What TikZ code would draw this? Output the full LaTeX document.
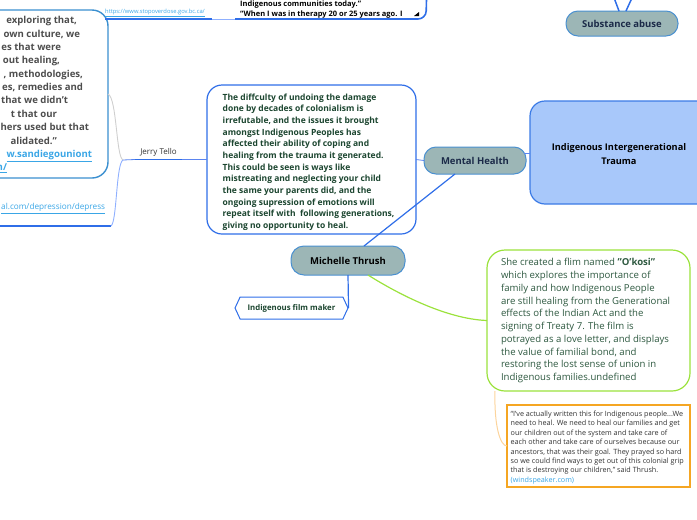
\documentclass[tikz,border=0pt]{standalone}
\usepackage{fontspec}
\setmainfont{Open Sans}
\usetikzlibrary{shapes.symbols}
\definecolor{linkblue}{HTML}{3AA6E6}
\definecolor{conblue}{HTML}{2F6EE8}
\definecolor{thinblue}{HTML}{5B85F0}
\definecolor{tlblue}{HTML}{3A8FD0}
\definecolor{pillfill}{HTML}{9CB6B6}
\definecolor{pillborder}{HTML}{4A90D0}
\definecolor{navy}{HTML}{1B2A48}
\definecolor{dkgreen}{HTML}{1C4630}
\definecolor{bigfill}{HTML}{A8C8FA}
\definecolor{bigborder}{HTML}{3B7BE6}
\definecolor{gborder}{HTML}{9BE23C}
\definecolor{gtext}{HTML}{2E5940}
\definecolor{oborder}{HTML}{F5A623}
\definecolor{ocon}{HTML}{FCD49C}
\definecolor{graycon}{HTML}{CFCFCF}
\definecolor{lightcon}{HTML}{8FB0FF}
\definecolor{tltext}{HTML}{4D4D4D}
\definecolor{otext}{HTML}{333333}
\newcommand{\padr}[1]{\rule{#1}{0pt}}
\begin{document}
\begin{tikzpicture}[x=1pt,y=-1pt,
  shapebox/.style={inner sep=0pt, outer sep=0pt},
  pill/.style={shapebox, rounded corners=12pt, fill=pillfill, draw=pillborder, line width=1pt, text=navy, font=\bfseries\fontsize{9.5}{11}\selectfont},
  para/.style={inner sep=0pt, outer sep=0pt, anchor=north west, align=left},
  conn/.style={draw=conblue, line width=1.2pt},
  thinconn/.style={draw=thinblue, line width=0.8pt},
  underl/.style={draw=conblue, line width=1.6pt},
]
\useasboundingbox (0,0) rectangle (697,520);
\clip (0,0) rectangle (697,520);

% ---------- top-left quote box ----------
\node[shapebox, draw=tlblue, line width=1.4pt, rounded corners=16pt, minimum width=168pt, minimum height=168pt] (tl) at (24,94) {};
\node[inner sep=0pt, outer sep=0pt, anchor=north east, align=right, text=tltext, font=\bfseries\fontsize{9.6}{13.36}\selectfont] (tltxt) at (92,16.5) {%
exploring that,\padr{15pt}\\
own culture, we\padr{12pt}\\
es that were\padr{31pt}\\
out healing,\padr{32pt}\\
, methodologies,\padr{9pt}\\
es, remedies and\padr{9pt}\\
that we didn’t\padr{24pt}\\
t that our\padr{35pt}\\
hers used but that\padr{3pt}\\
alidated.”\padr{35pt}\\
{\color{linkblue}\underline{w.sandiegouniont}}\\
{\color{linkblue}\underline{n/}}\padr{85pt}};

% ---------- link + top quote ----------
\node[shapebox, minimum width=107pt, minimum height=14pt] (lnk) at (158.5,12) {};
\node[inner sep=0pt, anchor=base west, text=linkblue, font=\fontsize{5.8}{7}\selectfont] (lnktxt) at (105,13.5) {\underline{https://www.stopoverdose.gov.bc.ca/}};
\draw[underl] (tl.east |- lnk.south) ++(-3,0) -- (lnk.south east);
\coordinate (qb) at (235,19);
\draw[draw=lightcon, line width=0.8pt] (lnk.south east) -- (qb);
\draw[underl, rounded corners=8pt] (qb) -- (426,19) -- (427,-20);
\node[inner sep=0pt, anchor=base west, font=\bfseries\fontsize{7.5}{9.5}\selectfont] (q1) at (240,6.5) {Indigenous communities today.”};
\node[inner sep=0pt, anchor=base west, font=\bfseries\fontsize{7.5}{9.5}\selectfont] (q2) at (240,16) {“When I was in therapy 20 or 25 years ago. I};
\fill (414,16) -- (419,16) -- (419,12) -- cycle;

% ---------- Jerry Tello ----------
\node[shapebox, minimum width=47pt, minimum height=14pt, text=black!80, font=\fontsize{8}{10}\selectfont] (jt) at (158.5,152.5) {Jerry Tello};
\draw[underl] (jt.south west) -- (jt.south east);
\coordinate (br) at (123,160);

% ---------- bottom-left link ----------
\node[shapebox, minimum width=131pt, minimum height=28pt] (bl) at (45.5,212) {};
\node[inner sep=0pt, anchor=base west, text=linkblue, font=\fontsize{8.2}{9}\selectfont] (bltxt) at (1,209.5) {\underline{al.com/depression/depress}};
\draw[underl] (bl.south west) -- (bl.south east);

% ---------- middle box ----------
\node[shapebox, draw=conblue, line width=1.2pt, rounded corners=15pt, fill=white, minimum width=209pt, minimum height=149pt] (mid) at (311.5,159.5) {};
\node[para, text=dkgreen, font=\bfseries\fontsize{8.5}{11.64}\selectfont] (midtxt) at (222.7,93.8) {%
The diffculty of undoing the damage\\
done by decades of colonialism is\\
irrefutable, and the issues it brought\\
amongst Indigenous Peoples has\\
affected their ability of coping and\\
healing from the trauma it generated.\\
This could be seen is ways like\\
mistreating and neglecting your child\\
the same your parents did, and the\\
ongoing supression of emotions will\\
repeat itself with\ \ following generations,\\
giving no opportunity to heal.};

% ---------- connectors left side ----------
\draw[thinconn] (br) -- (jt.south west);
\draw[thinconn] (jt.south east) -- (mid.west);
\draw[draw=graycon, line width=0.9pt] (br) .. controls (116,157) and (117,98) .. (tl.east);
\draw[draw=lightcon, line width=0.9pt] (br) .. controls (116,164) and (117,222) .. (bl.south east);

% ---------- right side ----------
\node[pill, minimum width=102pt, minimum height=27pt] (mh) at (475,160.5) {Mental Health};
\node[shapebox, draw=bigborder, line width=1.2pt, rounded corners=15pt, fill=bigfill, minimum width=190pt, minimum height=103pt] (big) at (625,152.5) {};
\node[inner sep=0pt, align=center, font=\bfseries\fontsize{9.2}{13.3}\selectfont] (bigtxt) at (619,154) {Indigenous Intergenerational\\Trauma};
\node[pill, minimum width=112pt, minimum height=25pt] (sa) at (622,23.5) {Substance abuse};
\coordinate (sa1) at (614.5,-1);
\coordinate (sa2) at (631.5,-1);
\draw[conn, line width=1.5pt] ([xshift=-3pt]sa.north) -- (sa1);
\draw[conn, line width=1.5pt] ([xshift=4pt]sa.north) -- (sa2);

\draw[thinconn] (mid.east) -- (mh.west);
\coordinate (mhr) at ([yshift=7pt,xshift=-2pt]mh.east);
\draw[thinconn] (mhr) -- (big.west |- mhr);

% ---------- Michelle Thrush ----------
\node[pill, rounded corners=13pt, text=black, minimum width=114pt, minimum height=29pt] (mt) at (348,260.5) {Michelle Thrush};
\draw[conn] ([xshift=-20pt]mh.south) -- ([xshift=16pt]mt.north);

\node[signal, signal to=west and east, signal pointer angle=130, draw=conblue, line width=1pt, fill=white, inner sep=0pt, minimum width=113pt, minimum height=22pt, text=dkgreen, font=\bfseries\fontsize{7.8}{9}\selectfont] (hex) at (291.5,308) {Indigenous film maker};
\draw[conn] (mt.south) -- (hex.east);

% ---------- green box ----------
\node[shapebox, draw=gborder, line width=1.2pt, rounded corners=18pt, fill=white, minimum width=203pt, minimum height=141pt] (gbox) at (588.5,320.5) {};
\draw[draw=gborder, line width=1.2pt] ([xshift=20pt]mt.south) .. controls (395,292) and (445,319) .. (gbox.west);
\node[para, text=gtext, font=\fontsize{9.6}{12.73}\selectfont] (gtxt) at (501,258.6) {%
She created a flim named \textbf{"O'kosi"}\\
which explores the importance of\\
family and how Indigenous People\\
are still healing from the Generational\\
effects of the Indian Act and the\\
signing of Treaty 7. The film is\\
potrayed as a love letter, and displays\\
the value of familial bond, and\\
restoring the lost sense of union in\\
Indigenous families.undefined};

% ---------- orange box ----------
\node[shapebox, draw=oborder, line width=1.2pt, fill=white, minimum width=183pt, minimum height=82pt] (obox) at (598.5,446) {};
\draw[draw=ocon, line width=1pt] ([xshift=8pt]gbox.south west) .. controls (494,425) and (500,446) .. (obox.west);
\node[para, text=otext, font=\fontsize{7.2}{9.43}\selectfont] (otxt) at (510.7,410.9) {%
“I've actually written this for Indigenous people...We\\
need to heal. We need to heal our families and get\\
our children out of the system and take care of\\
each other and take care of ourselves because our\\
ancestors, that was their goal. They prayed so hard\\
so we could find ways to get out of this colonial grip\\
that is destroying our children,” said Thrush.\\
{\color{linkblue}(windspeaker.com)}};
\end{tikzpicture}
\end{document}
